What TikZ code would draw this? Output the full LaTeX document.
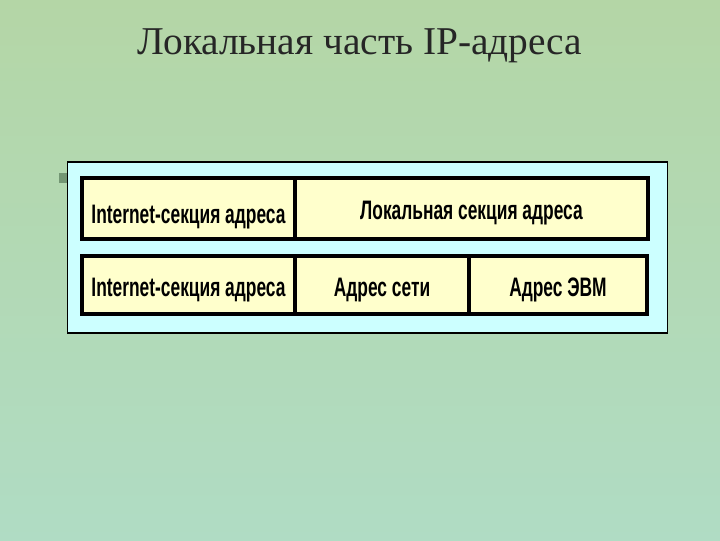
\documentclass[tikz,border=0pt]{standalone}
\usepackage{fontspec}
\setmainfont{Liberation Serif}
\newfontfamily\cellfont[FakeStretch=0.65]{Liberation Sans}
\usetikzlibrary{positioning}

\definecolor{bggreen}{HTML}{B4D6A6}
\definecolor{bgcyan}{HTML}{B0DCC4}
\definecolor{panelcyan}{HTML}{CCFFFF}
\definecolor{cellyellow}{HTML}{FFFFCC}

\begin{document}
\begin{tikzpicture}[x=0.025cm, y=-0.025cm,
            align=center, inner sep=0pt, outer sep=0pt]

            \tikzstyle{panel} = [rectangle, draw=black, line width=1.1pt, fill=panelcyan]
            \tikzstyle{cell} = [rectangle, draw=black, line width=2.2pt, fill=cellyellow,
                                text height=0.55cm, text depth=0pt,
                                font=\cellfont\bfseries\fontsize{19}{21}\selectfont]
            \tikzstyle{title} = [font=\fontsize{28}{32}\selectfont, text=black!85]

            % background of the slide
            \shade[top color=bggreen, bottom color=bgcyan] (0,0) rectangle (720,540);

            \node[title](heading) at(360, 46) {Локальная часть IP-адреса};

            \node[rectangle, fill=green!25!black!55, minimum size=10*0.025cm](bullet) at(64, 178) {};
            \node[panel, minimum width=600*0.025cm, minimum height=171*0.025cm](frame) at(367.5, 247.5) {};

            \node[cell, text height=0.75cm, minimum width=213*0.025cm, minimum height=61*0.025cm](inet_1) at(188.5, 208.5) {Internet-секция адреса};
            \node[cell, minimum width=353*0.025cm, minimum height=61*0.025cm](local) at(471.5, 208.5) {Локальная секция адреса};

            \node[cell, minimum width=213*0.025cm, minimum height=58*0.025cm](inet_2) at(188.5, 285) {Internet-секция адреса};
            \node[cell, minimum width=174*0.025cm, minimum height=58*0.025cm](net) at(382, 285) {Адрес сети};
            \node[cell, minimum width=178*0.025cm, minimum height=58*0.025cm](host) at(558, 285) {Адрес ЭВМ};
\end{tikzpicture}
\end{document}
